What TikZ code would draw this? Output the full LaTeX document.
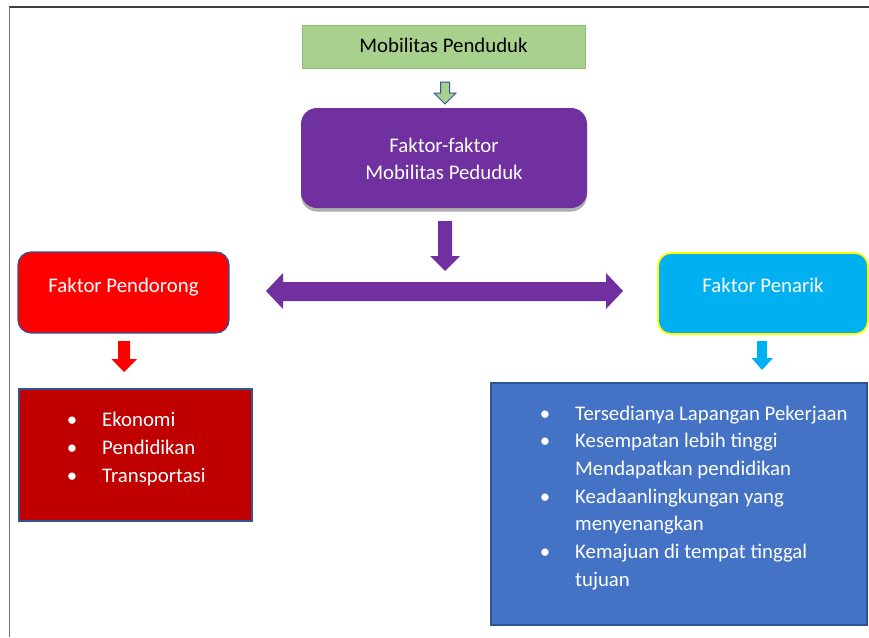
\documentclass[tikz,border=0pt]{standalone}
\usepackage{fontspec}
\setmainfont{Carlito}
\usetikzlibrary{shadows}
\definecolor{boxgreen}{HTML}{A9D18E}
\definecolor{edgegreen}{HTML}{8CC06A}
\definecolor{navy}{HTML}{2F5597}
\definecolor{purp}{HTML}{7030A0}
\definecolor{redbox}{HTML}{FF0000}
\definecolor{darkred}{HTML}{C00000}
\definecolor{cyanbox}{HTML}{00B0F0}
\definecolor{bluebox}{HTML}{4472C4}
\definecolor{yell}{HTML}{FFFF00}
\tikzset{
  boxbase/.style={anchor=north west, inner sep=0pt, outer sep=0pt},
  txt/.style={anchor=base, inner sep=0pt, text=white},
  item/.style={anchor=base west, inner sep=0pt, text=white},
  bul/.style={anchor=base, inner sep=0pt, text=white},
}
\begin{document}
\begin{tikzpicture}[x=1pt,y=-1pt,font=\fontsize{20.8}{27}\selectfont]
\useasboundingbox (0,0) rectangle (869,637);
% frame lines
\draw[line width=2pt, black!75] (9,6.5) -- (869,6.5);
\draw[line width=1.4pt, black!55] (9.5,6.5) -- (9.5,637);

% top box
\node[boxbase, draw=edgegreen, fill=boxgreen, line width=1pt, minimum width=283, minimum height=43] (mob) at (302,25) {};
\node[anchor=base, inner sep=0pt] (mobtxt) at (443.5,52) {Mobilitas Penduduk};

% green hollow arrow
\draw[navy, fill=boxgreen, line width=1pt, line join=miter]
  (440.5,82) -- (449.5,82) -- (449.5,93) -- (456,93) -- (445,104) -- (434,93) -- (440.5,93) -- cycle;

% purple box
\node[boxbase, fill=purp, rounded corners=16pt, minimum width=286, minimum height=100,
  drop shadow={shadow xshift=0pt, shadow yshift=-3.5pt, opacity=0.45, fill=black!70}] (fak) at (301,108) {};
\node[txt] (fak1) at (444,152) {Faktor-faktor};
\node[txt] (fak2) at (444,179) {Mobilitas Peduduk};

% purple down arrow
\fill[purp] (438,221) -- (452,221) -- (452,256) -- (460,256) -- (445,271) -- (430,256) -- (438,256) -- cycle;
% double arrow
\fill[purp] (266,291) -- (283,273) -- (283,282) -- (606,282) -- (606,273) -- (623,291)
  -- (606,309) -- (606,301) -- (283,301) -- (283,309) -- cycle;

% Faktor Pendorong
\node[boxbase, draw=navy, fill=redbox, line width=1.2pt, rounded corners=13pt, minimum width=211, minimum height=81] (dor) at (18,252) {};
\node[txt] (dortxt) at (123.5,292) {Faktor Pendorong};

% Faktor Penarik
\node[boxbase, draw=yell, fill=cyanbox, line width=1.8pt, rounded corners=13pt, minimum width=210, minimum height=81] (tar) at (658,253) {};
\node[txt] (tartxt) at (763,292) {Faktor Penarik};

% small arrows
\fill[redbox] (118,341) -- (130,341) -- (130,359) -- (137,359) -- (124,372) -- (111.5,359) -- (118,359) -- cycle;
\fill[cyanbox] (757,341) -- (767,341) -- (767,358) -- (773,358) -- (762,370) -- (751.5,358) -- (757,358) -- cycle;

% left list box
\node[boxbase, draw=navy, fill=darkred, line width=1.5pt, minimum width=233, minimum height=132] (lbox) at (19,389) {};
\node[bul] (lb1) at (72,426) {\textbullet};
\node[item] (li1) at (102,426) {Ekonomi};
\node[bul] (lb2) at (72,454) {\textbullet};
\node[item] (li2) at (102,454) {Pendidikan};
\node[bul] (lb3) at (72,482) {\textbullet};
\node[item] (li3) at (102,482) {Transportasi};

% right list box
\node[boxbase, draw=navy, fill=bluebox, line width=1.5pt, minimum width=376, minimum height=242] (rbox) at (491,383) {};
\node[bul] (rb1) at (545,420) {\textbullet};
\node[item] (ri1) at (575,420) {Tersedianya Lapangan Pekerjaan};
\node[bul] (rb2) at (545,447.7) {\textbullet};
\node[item] (ri2) at (575,447.7) {Kesempatan lebih tinggi};
\node[item] (ri2b) at (575,475.4) {Mendapatkan pendidikan};
\node[bul] (rb3) at (545,503) {\textbullet};
\node[item] (ri3) at (575,503) {Keadaanlingkungan yang};
\node[item] (ri3b) at (575,530.8) {menyenangkan};
\node[bul] (rb4) at (545,558.5) {\textbullet};
\node[item] (ri4) at (575,558.5) {Kemajuan di tempat tinggal};
\node[item] (ri4b) at (575,586) {tujuan};
\end{tikzpicture}
\end{document}
